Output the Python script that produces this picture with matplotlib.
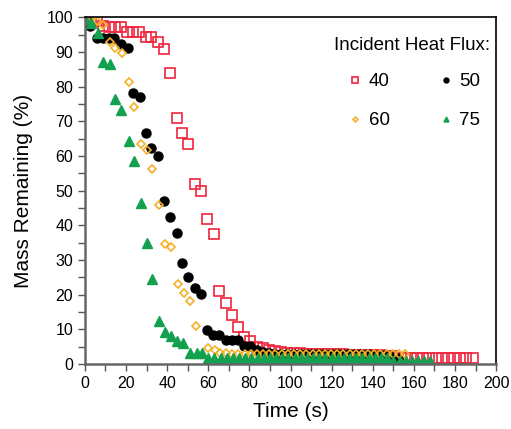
import matplotlib.pyplot as plt

plt.rcParams['font.family'] = ['Liberation Sans', 'DejaVu Sans']

# 40 kW/m2
t40 = [0, 2.9, 5.8, 8.6, 11.7, 14.6, 17.5, 20.6, 23.5, 26.4, 29.5, 32.4, 35.5, 38.3,
       41.4, 44.6, 47.4, 50.4, 53.7, 56.4, 59.4, 62.6, 65.4, 68.5, 71.4, 74.5, 77.5,
       80.5, 83.5, 86.5, 89.5, 92.5, 95.5, 98.5, 101.5, 104.5, 107.5, 110.5, 113.5,
       116.5, 119.5, 122.5, 125.5, 128.5, 131.5, 134.5, 137.5, 140.5, 143.5, 146.5,
       149.5, 152.5, 155.5, 158.5, 161.5, 164.5, 167.5, 170.5, 173.5, 176.5, 179.5,
       182.5, 185.5, 188.5]
m40 = [100, 99.6, 98.8, 97.5, 97.2, 97.2, 97.2, 95.6, 95.6, 95.6, 94.3, 94.3, 92.8, 90.9,
       83.9, 71.0, 66.5, 63.4, 52.0, 49.8, 41.8, 37.5, 21.0, 17.5, 14.1, 10.8, 7.9,
       6.5, 5.0, 4.5, 4.0, 3.8, 3.5, 3.3, 3.2, 3.1, 3.0, 3.0, 2.9, 2.9, 2.8, 2.8, 2.8,
       2.7, 2.7, 2.7, 2.6, 2.6, 2.5, 2.4, 2.2, 1.8, 1.7, 1.7, 1.7, 1.7, 1.7, 1.7, 1.7,
       1.7, 1.7, 1.7, 1.7, 1.7]

# 50 kW/m2
t50 = [0, 2.4, 5.7, 8.6, 11.7, 14.4, 17.5, 20.8, 23.4, 26.6, 29.8, 32.4, 35.5, 38.3,
       41.4, 44.6, 47.4, 50.3, 53.7, 56.4, 59.4, 62.4, 65.4, 68.5, 71.4, 74.5, 77.5,
       80.5, 83.5, 86.5, 89.5, 92.5, 95.5, 98.5, 101.5, 104.5, 107.5, 110.5, 113.5,
       116.5, 119.5, 122.5, 125.5, 128.5, 131.5, 134.5, 137.5, 140.5, 143.5, 146.5,
       149.5, 152.5]
m50 = [100, 97.5, 94.1, 94.1, 94.1, 94.1, 92.4, 91.1, 78.2, 77.1, 66.5, 62.4, 60.1, 47.0,
       42.5, 37.8, 29.2, 25.2, 22.0, 20.1, 9.7, 8.4, 8.4, 6.8, 6.8, 6.8, 5.3,
       5.3, 4.0, 3.6, 3.2, 3.0, 3.0, 3.0, 2.9, 2.9, 2.9, 2.9, 2.8, 2.8, 2.8, 2.8, 2.8,
       2.8, 2.8, 2.8, 2.8, 2.7, 2.7, 2.6, 2.0, 1.6]

# 60 kW/m2
t60 = [0, 3.2, 6.0, 8.9, 12.2, 14.9, 18.0, 21.3, 23.8, 27.1, 30.2, 32.9, 36.0, 38.9,
       42.0, 45.1, 48.0, 51.1, 54.2, 60.0, 63.1, 65.7, 68.7, 71.7, 74.7, 77.7, 80.7,
       83.7, 86.7, 89.7, 92.7, 95.7, 98.7, 101.7, 104.7, 107.7, 110.7, 113.7, 116.7,
       119.7, 122.7, 125.7, 128.7, 131.7, 134.7, 137.7, 140.7, 143.7, 146.7, 149.7,
       152.7, 155.7]
m60 = [100, 100, 98.8, 97.8, 92.8, 91.2, 89.8, 81.4, 74.1, 63.4, 61.8, 56.1, 45.7, 34.7,
       33.6, 23.0, 20.4, 18.2, 10.9, 4.5, 4.0, 3.1, 3.1, 3.0, 3.0, 3.0, 3.0,
       3.0, 2.9, 2.9, 2.9, 2.9, 2.9, 2.9, 2.9, 2.9, 2.9, 2.9, 2.9, 2.9, 2.9, 2.9,
       2.9, 2.9, 2.9, 2.9, 2.9, 2.9, 2.9, 2.9, 2.9, 2.8]

# 75 kW/m2
t75 = [0, 2.9, 6.2, 8.9, 12.2, 14.6, 17.8, 21.3, 23.8, 27.1, 30.3, 32.9, 36.0, 38.8,
       41.8, 44.9, 47.8, 51.1, 54.3, 57.1, 60.0, 63.0, 66.0, 69.0, 72.0, 75.0, 78.0,
       81.0, 84.0, 87.0, 90.0, 93.0, 96.0, 99.0, 102.0, 105.0, 108.0, 111.0, 114.0,
       117.0, 120.0, 123.0, 126.0, 129.0, 132.0, 135.0, 138.0, 141.0, 144.0, 147.0,
       150.0, 153.0, 156.0, 159.0, 162.0, 165.0, 168.0]
m75 = [99.6, 98.4, 95.3, 87.1, 86.6, 76.4, 73.2, 64.3, 58.5, 46.3, 35.0, 24.5, 12.5, 9.3,
       8.1, 6.7, 6.1, 3.3, 3.3, 3.3, 1.6, 1.6, 1.6, 1.6, 1.6, 1.6, 1.6,
       1.6, 1.6, 1.6, 1.6, 1.6, 1.6, 1.6, 1.6, 1.6, 1.6, 1.6, 1.6, 1.6, 1.6, 1.6,
       1.6, 1.6, 1.6, 1.6, 1.6, 1.6, 1.6, 1.6, 1.0, 0.8, 0.8, 0.8, 0.8, 0.8, 0.8]

fig = plt.figure(figsize=(5.11, 4.29), dpi=100)
ax = fig.add_axes([0.166, 0.1515, 0.805, 0.8085])

h40, = ax.plot(t40, m40, 's', mfc='none', mec='#f0243c', ms=7, mew=1.2, label='40')
h50, = ax.plot(t50, m50, 'o', color='black', ms=6.5, label='50')
h60, = ax.plot(t60, m60, 'D', mfc='none', mec='#f5b027', ms=4.5, mew=1.2, label='60')
h75, = ax.plot(t75, m75, '^', color='#13a150', ms=6.5, label='75')

ax.set_xlim(0, 200)
ax.set_ylim(0, 100)
ax.set_xticks(range(0, 201, 20))
ax.set_xticks(range(0, 201, 10), minor=True)
ax.set_yticks(range(0, 101, 10))
ax.set_yticks(range(0, 101, 5), minor=True)
ax.tick_params(which='both', direction='out', labelsize=11.5, width=1, color='#555555')
ax.tick_params(which='major', length=5)
ax.tick_params(which='minor', length=5)
for s in ['left', 'bottom']:
    ax.spines[s].set_color('#666666')
    ax.spines[s].set_linewidth(1.8)
for s in ['top', 'right']:
    ax.spines[s].set_linewidth(1.2)

ax.set_xlabel('Time (s)', fontsize=15, labelpad=8)
ax.set_ylabel('Mass Remaining (%)', fontsize=15, labelpad=10)

# legend title drawn separately so the gap to the first row can be set
ax.text(0.795, 0.919, 'Incident Heat Flux:', transform=ax.transAxes,
        ha='center', va='center', fontsize=13.5)
leg = ax.legend([h40, h60, h50, h75], ['40', '60', '50', '75'], ncol=2,
                frameon=False, fontsize=13.5, borderpad=0,
                markerscale=0.55, handlelength=0.8,
                handletextpad=0.3, columnspacing=2.6, labelspacing=1.15,
                loc='upper center', bbox_to_anchor=(0.8, 0.865))

fig.savefig('out.png', dpi=100)
